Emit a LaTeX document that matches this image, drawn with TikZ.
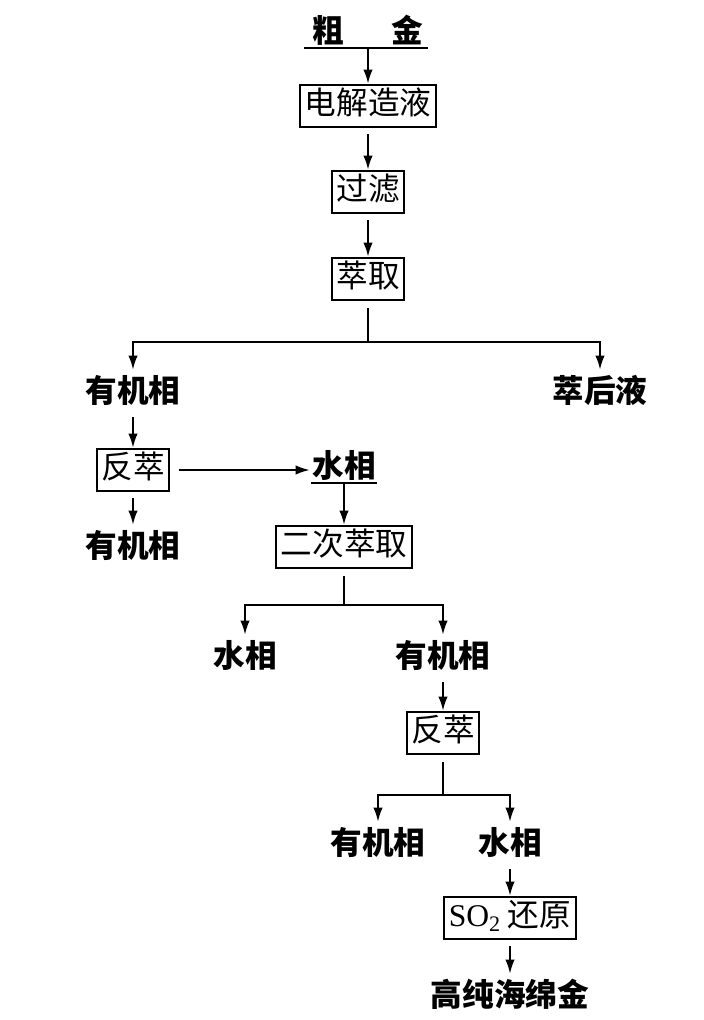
\documentclass[tikz,border=0pt]{standalone}
\usepackage{fontspec}
\setmainfont{Liberation Serif}
\newfontfamily\cjk{Noto Sans CJK SC}
\usepackage{tikz}
\usetikzlibrary{arrows.meta, positioning}

\tikzset{
  proc/.style={draw, line width=1.7pt, font=\cjk\fontsize{27}{30}\selectfont,
    text height=20pt, text depth=5pt, inner xsep=4pt, inner ysep=5.5pt, outer sep=0pt},
  lab/.style={font=\cjk\bfseries\fontsize{27}{30}\selectfont,
    text height=20pt, text depth=5pt, inner xsep=2pt, inner ysep=7pt},
  ulab/.style={font=\cjk\bfseries\fontsize{27}{30}\selectfont,
    text height=20pt, text depth=4pt, inner xsep=1pt, inner ysep=1pt},
  arr/.style={-{Latex[length=12pt,width=8pt]}, line width=1.7pt, shorten >=1pt},
  ln/.style={line width=1.7pt}
}

\begin{document}
\begin{tikzpicture}[x=0.03cm, y={(0cm,-0.03cm)}]
    \useasboundingbox (0,0) rectangle (703,1020);

    % Raw gold and first stages
    \node[ulab] (cujin) at (368,33) {粗\hspace{1.5em}金};
    \draw[ln] ([xshift=-6pt]cujin.south west) -- ([xshift=3pt]cujin.south east);
    \node[proc] (dianjie) at (368,106) {电解造液};
    \node[proc] (guolv) at (368,192) {过滤};
    \node[proc] (cuiqu) at (368,279) {萃取};
    \draw[arr] (cujin.south) -- (dianjie.north);
    \draw[arr, shorten <=6pt] (dianjie.south) -- (guolv.north);
    \draw[arr, shorten <=6pt] (guolv.south) -- (cuiqu.north);

    % First split
    \coordinate (s1) at (368,342);
    \node[lab] (youji1) at (133,394) {有机相};
    \node[lab] (cuihou) at (600,394) {萃后液};
    \draw[ln, shorten <=7pt] (cuiqu.south) -- (s1);
    \draw[arr] (s1) -| (youji1.north);
    \draw[arr] (s1) -| (cuihou.north);

    % Back extraction
    \node[proc] (fancui1) at (133,470) {反萃};
    \node[lab] (youji2) at (133,549) {有机相};
    \node[ulab] (shui1) at (344,468) {水相};
    \draw[ln] (shui1.south west) -- (shui1.south east);
    \draw[arr] (youji1.south) -- (fancui1.north);
    \draw[arr, shorten <=6pt] (fancui1.south) -- (youji2.north);
    \draw[arr, shorten <=8pt] (fancui1.east) -- (fancui1.east -| shui1.west);

    % Second extraction
    \node[proc] (erci) at (344,547) {二次萃取};
    \draw[arr] (shui1.south) -- (erci.north);
    \coordinate (s2) at (344,605);
    \node[lab] (shui2) at (245,659) {水相};
    \node[lab] (youji3) at (443,659) {有机相};
    \draw[ln, shorten <=7pt] (erci.south) -- (s2);
    \draw[arr] (s2) -| (shui2.north);
    \draw[arr] (s2) -| (youji3.north);

    % Second back extraction
    \node[proc] (fancui2) at (443,733) {反萃};
    \draw[arr] (youji3.south) -- (fancui2.north);
    \coordinate (s3) at (443,795);
    \node[lab] (youji4) at (378,846) {有机相};
    \node[lab] (shui3) at (510,846) {水相};
    \draw[ln, shorten <=7pt] (fancui2.south) -- (s3);
    \draw[arr] (s3) -| (youji4.north);
    \draw[arr] (s3) -| (shui3.north);

    % Reduction
    \node[proc] (huanyuan) at (510,918) {{\rmfamily SO\textsubscript{2}} 还原};
    \node[lab] (gaochun) at (510,998) {高纯海绵金};
    \draw[arr] (shui3.south) -- (huanyuan.north);
    \draw[arr, shorten <=6pt] (huanyuan.south) -- (gaochun.north);
\end{tikzpicture}
\end{document}
